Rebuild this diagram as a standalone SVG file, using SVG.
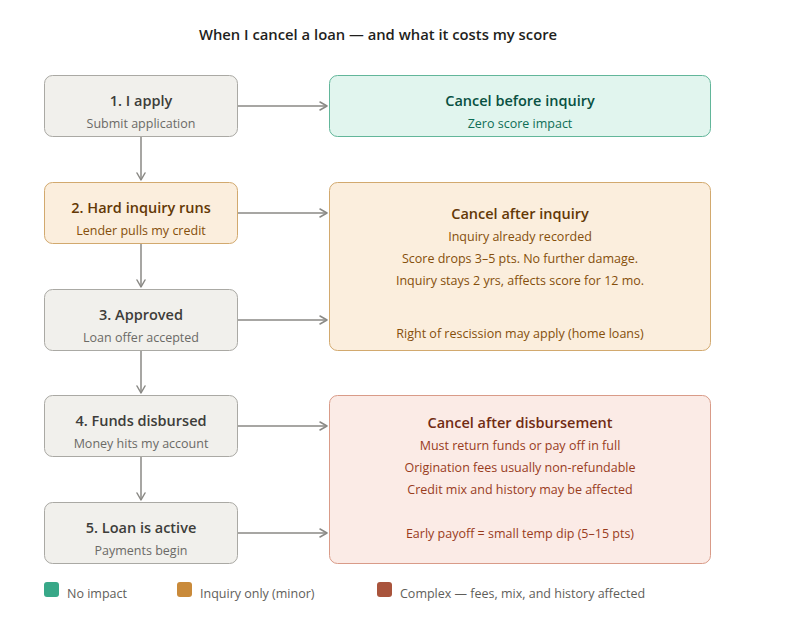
<svg xmlns="http://www.w3.org/2000/svg" width="800" height="622" viewBox="0 0 800 622">
  <defs>
    <marker id="arrow" viewBox="0 0 10 10" refX="8" refY="5" markerWidth="10" markerHeight="10" markerUnits="userSpaceOnUse" orient="auto">
      <path d="M1,1 L8,5 L1,9" fill="none" stroke="#8a8985" stroke-width="1.5" stroke-linecap="round" stroke-linejoin="round"/>
    </marker>
  </defs>
  <style>
    text { font-family: "Open Sans", "Noto Sans", "Liberation Sans", sans-serif; text-anchor: middle; }
    .title { font-size: 14.8px; font-weight: 600; fill: #1f1f1d; }
    .h { font-size: 14.5px; font-weight: 600; }
    .s { font-size: 12.5px; }
    .gray rect { fill: #f1f0ec; stroke: #aaa9a4; }
    .gray .h { fill: #3d3d3a; }
    .gray .s { fill: #6b6a66; }
    .amber rect { fill: #fbeedd; stroke: #d2a96e; }
    .amber .h { fill: #633806; }
    .amber .s { fill: #854f0b; }
    .green rect { fill: #e1f5ee; stroke: #62b69a; }
    .green .h { fill: #085041; }
    .green .s { fill: #0f6e56; }
    .red rect { fill: #fbebe6; stroke: #d99b88; }
    .red .h { fill: #712b13; }
    .red .s { fill: #993c1d; }
    .edge { stroke: #8a8985; stroke-width: 1.5; fill: none; marker-end: url(#arrow); }
    .legend text { text-anchor: start; font-size: 12.5px; fill: #5f5e5a; }
  </style>

  <rect width="800" height="622" fill="#ffffff"/>

  <text class="title" x="378" y="40">When I cancel a loan — and what it costs my score</text>

  <!-- connectors -->
  <g id="connectors">
    <line class="edge" x1="141" y1="137" x2="141" y2="180"/>
    <line class="edge" x1="141" y1="244" x2="141" y2="287"/>
    <line class="edge" x1="141" y1="351" x2="141" y2="393"/>
    <line class="edge" x1="141" y1="457" x2="141" y2="500"/>
    <line class="edge" x1="238" y1="106" x2="327" y2="106"/>
    <line class="edge" x1="238" y1="213" x2="327" y2="213"/>
    <line class="edge" x1="238" y1="320" x2="327" y2="320"/>
    <line class="edge" x1="238" y1="426" x2="327" y2="426"/>
    <line class="edge" x1="238" y1="533" x2="327" y2="533"/>
  </g>

  <!-- process steps -->
  <g id="step1" class="gray">
    <rect x="44.5" y="75.5" width="193" height="61" rx="8"/>
    <text class="h" x="141" y="106">1. I apply</text>
    <text class="s" x="141" y="128">Submit application</text>
  </g>
  <g id="step2" class="amber">
    <rect x="44.5" y="182.5" width="193" height="61" rx="8"/>
    <text class="h" x="141" y="213">2. Hard inquiry runs</text>
    <text class="s" x="141" y="235">Lender pulls my credit</text>
  </g>
  <g id="step3" class="gray">
    <rect x="44.5" y="289.5" width="193" height="61" rx="8"/>
    <text class="h" x="141" y="320">3. Approved</text>
    <text class="s" x="141" y="342">Loan offer accepted</text>
  </g>
  <g id="step4" class="gray">
    <rect x="44.5" y="395.5" width="193" height="61" rx="8"/>
    <text class="h" x="141" y="426">4. Funds disbursed</text>
    <text class="s" x="141" y="448">Money hits my account</text>
  </g>
  <g id="step5" class="gray">
    <rect x="44.5" y="502.5" width="193" height="61" rx="8"/>
    <text class="h" x="141" y="533">5. Loan is active</text>
    <text class="s" x="141" y="555">Payments begin</text>
  </g>

  <!-- outcomes -->
  <g id="before-inquiry" class="green">
    <rect x="329.5" y="75.5" width="381" height="61" rx="8"/>
    <text class="h" x="520" y="106">Cancel before inquiry</text>
    <text class="s" x="520" y="128">Zero score impact</text>
  </g>
  <g id="after-inquiry" class="amber">
    <rect x="329.5" y="182.5" width="381" height="168" rx="8"/>
    <text class="h" x="520" y="219">Cancel after inquiry</text>
    <text class="s" x="520" y="241">Inquiry already recorded</text>
    <text class="s" x="520" y="263">Score drops 3–5 pts. No further damage.</text>
    <text class="s" x="520" y="285">Inquiry stays 2 yrs, affects score for 12 mo.</text>
    <text class="s" x="520" y="338">Right of rescission may apply (home loans)</text>
  </g>
  <g id="after-disbursement" class="red">
    <rect x="329.5" y="395.5" width="381" height="168" rx="8"/>
    <text class="h" x="520" y="428">Cancel after disbursement</text>
    <text class="s" x="520" y="450">Must return funds or pay off in full</text>
    <text class="s" x="520" y="472">Origination fees usually non-refundable</text>
    <text class="s" x="520" y="494">Credit mix and history may be affected</text>
    <text class="s" x="520" y="538">Early payoff = small temp dip (5–15 pts)</text>
  </g>

  <!-- legend -->
  <g id="legend" class="legend">
    <rect x="44" y="582" width="15" height="15" rx="3" fill="#38a888"/>
    <text x="67" y="598">No impact</text>
    <rect x="177" y="582" width="15" height="15" rx="3" fill="#c98a3a"/>
    <text x="200" y="598">Inquiry only (minor)</text>
    <rect x="377" y="582" width="15" height="15" rx="3" fill="#a9543c"/>
    <text x="400" y="598">Complex — fees, mix, and history affected</text>
  </g>
</svg>
